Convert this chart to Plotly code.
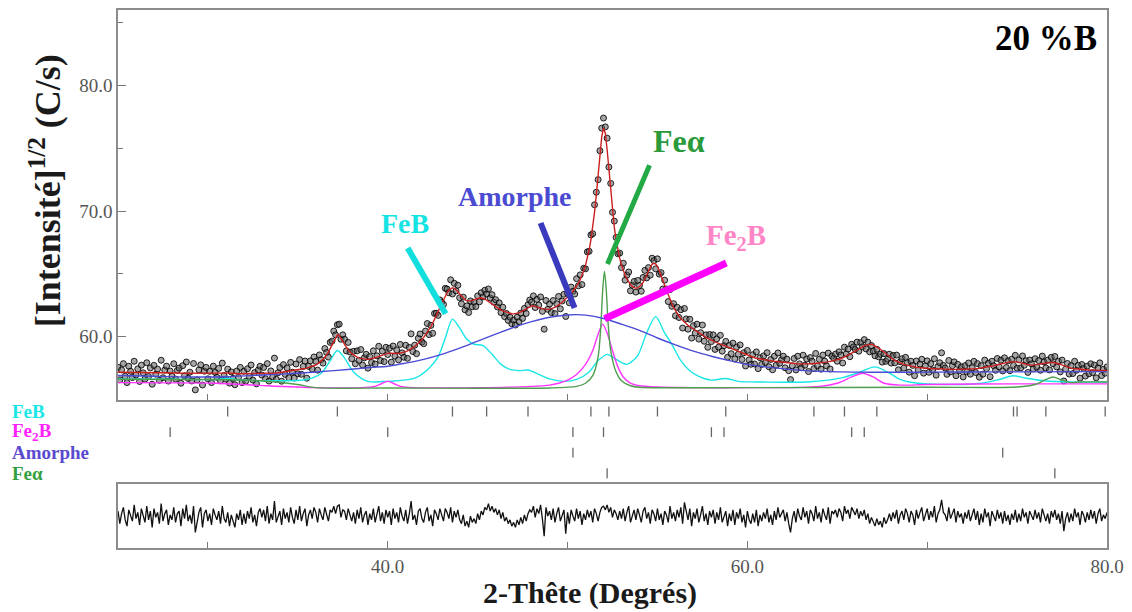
import numpy as np
import plotly.graph_objects as go

# ---------------- data ----------------
two_theta_start = 25.0
two_theta_step = 0.1

# calculated (fitted) profile, every 0.1 deg from 25.0 to 80.0
calc = [
    57.17, 57.17, 57.16, 57.16, 57.16, 57.15, 57.15, 57.15, 57.15, 57.15,
    57.15, 57.14, 57.14, 57.14, 57.13, 57.13, 57.13, 57.13, 57.12, 57.12,
    57.12, 57.12, 57.12, 57.13, 57.13, 57.14, 57.15, 57.16, 57.17, 57.17,
    57.16, 57.15, 57.13, 57.12, 57.11, 57.10, 57.10, 57.09, 57.09, 57.08,
    57.08, 57.08, 57.07, 57.07, 57.06, 57.06, 57.06, 57.06, 57.06, 57.06,
    57.05, 57.05, 57.05, 57.06, 57.06, 57.07, 57.08, 57.09, 57.10, 57.11,
    57.12, 57.12, 57.11, 57.10, 57.09, 57.08, 57.07, 57.06, 57.06, 57.05,
    57.05, 57.05, 57.05, 57.05, 57.05, 57.05, 57.05, 57.05, 57.05, 57.05,
    57.05, 57.05, 57.06, 57.06, 57.07, 57.08, 57.09, 57.10, 57.11, 57.13,
    57.15, 57.16, 57.18, 57.20, 57.22, 57.24, 57.26, 57.28, 57.31, 57.33,
    57.35, 57.38, 57.41, 57.44, 57.47, 57.50, 57.54, 57.58, 57.63, 57.69,
    57.75, 57.84, 57.95, 58.07, 58.20, 58.36, 58.55, 58.78, 59.05, 59.35,
    59.65, 59.95, 60.15, 60.10, 59.90, 59.65, 59.40, 59.17, 58.95, 58.78,
    58.65, 58.54, 58.45, 58.38, 58.32, 58.28, 58.25, 58.22, 58.20, 58.20,
    58.22, 58.25, 58.28, 58.33, 58.38, 58.44, 58.50, 58.56, 58.62, 58.66,
    58.68, 58.69, 58.68, 58.66, 58.65, 58.65, 58.66, 58.69, 58.72, 58.77,
    58.82, 58.88, 58.95, 59.03, 59.12, 59.23, 59.35, 59.48, 59.62, 59.78,
    59.95, 60.15, 60.35, 60.57, 60.80, 61.07, 61.35, 61.67, 62.00, 62.33,
    62.65, 62.97, 63.25, 63.50, 63.70, 63.83, 63.90, 63.85, 63.75, 63.60,
    63.40, 63.22, 63.05, 62.94, 62.85, 62.83, 62.85, 62.89, 62.95, 63.00,
    63.05, 63.08, 63.10, 63.07, 63.00, 62.90, 62.80, 62.68, 62.55, 62.45,
    62.35, 62.27, 62.20, 62.12, 62.05, 62.00, 61.95, 61.90, 61.85, 61.83,
    61.82, 61.83, 61.85, 61.90, 61.98, 62.06, 62.15, 62.25, 62.35, 62.42,
    62.45, 62.45, 62.42, 62.37, 62.32, 62.27, 62.22, 62.20, 62.18, 62.18,
    62.20, 62.23, 62.28, 62.34, 62.42, 62.51, 62.62, 62.74, 62.88, 63.01,
    63.15, 63.30, 63.45, 63.62, 63.80, 64.02, 64.25, 64.52, 64.85, 65.25,
    65.70, 66.25, 66.90, 67.70, 68.70, 69.90, 71.30, 72.90, 74.50, 75.90,
    76.60, 76.20, 74.90, 73.20, 71.50, 70.00, 68.70, 67.70, 66.90, 66.25,
    65.70, 65.25, 64.90, 64.60, 64.35, 64.15, 64.00, 63.90, 63.85, 63.88,
    63.97, 64.12, 64.32, 64.58, 64.88, 65.20, 65.50, 65.75, 65.85, 65.80,
    65.60, 65.28, 64.90, 64.50, 64.10, 63.70, 63.30, 62.95, 62.62, 62.33,
    62.07, 61.84, 61.63, 61.45, 61.29, 61.15, 61.02, 60.90, 60.79, 60.69,
    60.58, 60.49, 60.40, 60.31, 60.22, 60.13, 60.04, 59.95, 59.86, 59.78,
    59.71, 59.65, 59.59, 59.53, 59.47, 59.41, 59.35, 59.29, 59.23, 59.17,
    59.11, 59.05, 58.99, 58.93, 58.87, 58.81, 58.75, 58.69, 58.63, 58.57,
    58.51, 58.46, 58.41, 58.37, 58.33, 58.29, 58.26, 58.23, 58.20, 58.17,
    58.15, 58.13, 58.11, 58.09, 58.07, 58.05, 58.03, 58.01, 57.99, 57.97,
    57.95, 57.93, 57.92, 57.90, 57.89, 57.88, 57.87, 57.86, 57.85, 57.84,
    57.83, 57.83, 57.83, 57.83, 57.83, 57.84, 57.85, 57.86, 57.87, 57.88,
    57.90, 57.92, 57.94, 57.96, 57.98, 58.00, 58.03, 58.06, 58.09, 58.12,
    58.15, 58.20, 58.25, 58.31, 58.37, 58.44, 58.52, 58.61, 58.70, 58.79,
    58.88, 58.97, 59.05, 59.13, 59.20, 59.27, 59.33, 59.37, 59.40, 59.40,
    59.35, 59.28, 59.20, 59.10, 59.00, 58.88, 58.76, 58.64, 58.52, 58.41,
    58.30, 58.21, 58.12, 58.04, 57.97, 57.91, 57.85, 57.80, 57.76, 57.72,
    57.68, 57.65, 57.62, 57.60, 57.57, 57.55, 57.53, 57.51, 57.50, 57.49,
    57.48, 57.47, 57.46, 57.45, 57.45, 57.44, 57.43, 57.43, 57.42, 57.42,
    57.41, 57.41, 57.41, 57.40, 57.40, 57.40, 57.40, 57.40, 57.40, 57.40,
    57.40, 57.40, 57.41, 57.41, 57.42, 57.43, 57.44, 57.45, 57.46, 57.48,
    57.50, 57.52, 57.54, 57.56, 57.59, 57.62, 57.65, 57.69, 57.73, 57.77,
    57.80, 57.84, 57.88, 57.92, 57.95, 57.98, 58.00, 58.01, 58.02, 58.02,
    58.00, 57.96, 57.92, 57.87, 57.83, 57.79, 57.76, 57.75, 57.74, 57.74,
    57.75, 57.77, 57.80, 57.83, 57.86, 57.89, 57.92, 57.94, 57.96, 57.96,
    57.95, 57.93, 57.90, 57.85, 57.80, 57.74, 57.68, 57.62, 57.57, 57.53,
    57.50, 57.47, 57.45, 57.43, 57.42, 57.40, 57.39, 57.38, 57.37, 57.36,
    57.35, 57.35, 57.34, 57.34, 57.33, 57.32, 57.32, 57.31, 57.31, 57.30,
    57.30,
]

# difference curve (observed - calculated), same 0.1 deg grid
residual = [
    0.4, -0.6, 0.2, 0.7, -0.3, -0.8, 0.5, 0.1, -0.4, 0.9,
    -0.2, 0.3, -0.7, 0.6, 0.0, -0.5, 0.8, -0.3, 0.4, -0.9,
    0.6, -0.1, 0.3, -0.6, 1.0, -0.4, 0.2, 0.5, -0.7, 0.1,
    -0.3, 0.7, -0.5, 0.2, 0.4, -0.8, 0.6, -0.2, 0.9, -0.4,
    0.1, -0.6, 0.8, -1.3, -0.5, 0.3, 0.7, -0.9, 0.2, 0.5,
    -0.4, 0.2, -0.7, 0.6, 0.1, -0.3, 0.4, -0.6, 0.8, -0.2,
    -0.5, 0.3, -0.8, 0.1, -0.4, -0.9, 0.2, -0.3, 0.5, -0.7,
    0.2, -0.6, 0.4, -0.2, 0.7, -0.5, 0.1, -0.8, 0.3, 0.6,
    -0.1, 0.5, -0.4, 0.8, -0.6, 0.2, -0.3, 1.2, -0.5, 0.0,
    0.4, -0.7, 0.6, -0.2, 0.3, -0.5, 0.7, -0.1, -0.6, 0.5,
    -0.3, 0.8, -0.4, 0.2, 0.6, -0.8, 0.1, 0.5, -0.2, 0.7,
    0.3, -0.5, 0.6, 0.1, -0.3, 0.7, 0.2, -0.4, 0.5, 0.3,
    0.8, 0.2, 0.8, 0.9, -0.1, 0.5, 0.4, -0.3, 0.6, 0.0,
    -0.4, 0.3, -0.6, 0.5, -0.2, 0.7, -0.5, 0.1, 0.4, -0.7,
    0.2, -0.3, 0.6, -0.5, 0.1, 0.8, -0.4, 0.3, -0.6, 0.5,
    -0.1, 0.4, -0.7, 0.6, -0.2, 0.3, -0.5, 0.7, 0.0, -0.4,
    0.5, -0.6, 0.2, 1.2, -0.3, 0.1, -0.7, 0.4, 0.6, -0.2,
    -0.5, 0.3, 0.7, -0.4, 0.1, -0.8, 0.5, 0.2, -0.3, 0.6,
    0.1, -0.4, 0.6, 0.3, -0.2, 0.7, -0.5, 0.4, -0.1, 0.5,
    -0.3, -0.6, 0.1, -0.8, -0.4, -0.9, 0.0, -0.5, -0.2, -0.6,
    0.2, -0.3, 0.4, 0.1, 0.7, 0.5, 1.0, 0.4, 0.8, 0.3,
    0.6, 0.1, 0.5, -0.2, 0.3, -0.4, -0.1, -0.6, -0.3, -0.8,
    -0.5, -0.9, -0.3, -0.7, -0.1, -0.6, 0.1, -0.4, 0.2, 0.5,
    0.3, 0.8, -0.1, 0.6, 0.2, 0.9, -0.2, -1.6, 0.7, 0.0,
    0.4, -0.3, 0.6, -0.5, 0.2, 0.7, -0.4, 0.1, 0.5, -1.4,
    0.3, -0.6, 0.5, 0.0, -0.4, 0.6, -0.2, 0.4, -0.7, 0.2,
    -0.3, 0.5, -0.1, 0.4, -0.5, 0.6, 0.2, -0.4, 0.3, 0.7,
    0.8, 0.5, 0.9, 0.3, 0.7, -0.1, 0.5, 0.2, -0.3, 0.4,
    -0.2, 0.6, -0.4, 0.3, 0.8, -0.5, 0.1, 0.5, -0.3, 0.6,
    0.1, -0.5, 0.4, 0.7, -0.2, 0.3, -0.6, 0.5, 0.2, -0.4,
    0.6, -0.3, 0.2, -0.7, 0.4, 0.1, -0.5, 0.8, -0.2, 0.3,
    -0.4, 0.5, -0.1, 0.7, -0.6, 1.1, 0.4, -0.3, 0.6, -0.8,
    0.3, -0.2, 0.6, -0.5, 0.1, 0.8, -0.4, 0.2, -0.7, 0.4,
    -0.1, 0.5, -0.6, 0.3, -0.3, 0.7, -0.5, 0.0, 0.4, -0.8,
    0.2, -0.4, 0.5, -0.7, 0.3, -0.2, 0.6, -0.5, 0.1, -0.9,
    0.4, -0.3, -0.6, 0.2, -0.5, 0.5, -0.8, 0.1, -0.4, 0.3,
    -0.2, 0.6, -0.5, 0.1, -0.7, 0.4, -0.3, 0.7, -0.1, 0.2,
    0.5, -0.4, 0.3, -0.6, -1.3, -0.2, 0.4, -0.5, 0.6, 0.0,
    -0.3, 0.7, -0.1, 0.4, -0.6, 0.5, 0.2, -0.4, 0.8, -0.2,
    0.3, -0.5, 0.6, 0.1, -0.3, 0.7, -0.6, 0.4, 0.2, 0.5,
    -0.1, 0.6, 0.3, -0.4, 0.8, 0.2, 0.5, -0.2, 0.7, 0.4,
    0.1, 0.6, -0.2, 0.4, 0.0, 0.5, -0.3, 0.2, -0.6, -0.1,
    -0.5, -0.8, -0.2, -0.7, -0.4, -0.9, -0.1, -0.6, -0.3, 0.2,
    -0.4, 0.3, -0.2, 0.5, -0.6, 0.1, 0.4, -0.3, 0.6, 0.2,
    -0.5, 0.4, 0.1, -0.7, 0.5, -0.2, 0.3, 0.7, -0.4, 0.2,
    0.6, -0.3, 0.4, -0.1, 0.8, -0.5, 0.2, 0.5, 1.3, 0.3,
    0.1, -0.4, 0.7, -0.2, 0.3, 0.6, -0.5, 0.4, -0.1, 0.2,
    -0.6, 0.3, -0.2, 0.5, -0.4, 0.1, 0.6, -0.3, 0.4, -0.7,
    0.2, -0.5, 0.6, -0.1, 0.3, -0.8, 0.4, 0.0, -0.4, 0.5,
    -0.2, 0.3, -0.6, 0.4, -0.4, 0.1, -0.7, 0.2, -0.3, 0.5,
    -0.5, 0.2, -0.4, 0.6, -0.1, 0.3, -0.6, 0.4, 0.1, -0.3,
    0.5, -0.2, 0.3, -0.5, 0.6, 0.1, -0.4, 0.2, -0.6, 0.4,
    -0.1, 0.5, -0.3, 0.2, -0.6, 0.4, -1.2, -0.2, 0.3, -0.5,
    0.2, -0.4, 0.6, -0.1, 0.3, -0.7, 0.4, 0.1, -0.5, 0.3,
    -0.3, 0.5, -0.2, 0.4, -0.6, 0.2, 0.6, -0.4, 0.1, -0.2,
    0.3,
]

# phase contributions
amorph_x = [25, 27, 29, 31, 33, 35, 37, 39, 40, 41, 42, 43, 44, 45, 46, 47, 48, 49, 50, 50.5,
            51, 52, 53, 54, 55, 56, 57, 58, 59, 60, 61, 62, 63, 64, 66, 68, 70, 74, 80]
amorph_y = [56.92, 56.85, 56.80, 56.82, 56.95, 57.10, 57.30, 57.55, 57.65, 57.90, 58.20, 58.60,
            59.10, 59.65, 60.20, 60.75, 61.20, 61.55, 61.73, 61.76, 61.72, 61.45, 61.00, 60.50,
            59.90, 59.35, 58.85, 58.45, 58.10, 57.80, 57.60, 57.45, 57.32, 57.25, 57.18, 57.17,
            57.18, 57.20, 57.22]

feb_x = [25, 28, 30.5, 31.1, 31.7, 33.5, 35.5, 36.3, 36.8, 37.2, 37.6, 38.1, 38.9, 40, 41.5,
         42.3, 42.8, 43.2, 43.6, 44.0, 44.4, 44.8, 45.3, 45.8, 46.3, 46.8, 47.3, 47.8, 48.4,
         49.0, 49.8, 50.5, 51.2, 51.7, 52.2, 52.7, 53.3, 53.9, 54.4, 54.9, 55.4, 55.8, 56.3,
         56.8, 57.3, 58.0, 58.8, 59.5, 60.5, 62, 63.3, 64.5, 65.3, 66.2, 67.1, 67.9, 68.5,
         69.0, 71, 73, 74, 74.8, 75.5, 76.5, 78, 80]
feb_y = [56.65, 56.62, 56.60, 56.70, 56.58, 56.50, 56.60, 57.10, 58.10, 58.90, 58.30, 57.20,
         56.45, 56.45, 56.70, 57.50, 58.40, 59.90, 61.40, 60.70, 59.80, 59.40, 59.30, 58.60,
         57.80, 57.40, 57.30, 57.35, 57.00, 56.65, 56.45, 56.60, 57.20, 58.10, 58.60, 58.20,
         57.80, 58.50, 60.30, 61.60, 60.30, 59.40, 58.10, 57.30, 56.85, 56.55, 56.68, 56.45,
         56.40, 56.38, 56.40, 56.55, 56.75, 57.15, 57.60, 57.10, 56.60, 56.40, 56.20, 56.30,
         56.60, 56.90, 56.70, 56.50, 56.40, 56.40]

fe2b_x = [25, 30.4, 33.2, 36, 38.5, 39.3, 39.7, 40.0, 40.3, 40.7, 41.5, 45, 48, 49, 49.5, 50,
          50.5, 51.0, 51.4, 51.7, 51.95, 52.2, 52.5, 52.8, 53.1, 53.5, 54, 55, 57, 60, 63, 64,
          65, 65.8, 66.4, 67.0, 67.6, 68.5, 70, 75, 80]
fe2b_y = [56.35, 56.30, 56.10, 55.95, 55.95, 56.05, 56.30, 56.45, 56.30, 56.05, 55.95, 55.95,
          56.05, 56.15, 56.30, 56.55, 57.00, 57.80, 58.90, 60.20, 61.00, 60.30, 58.90, 57.60,
          56.80, 56.30, 56.10, 56.00, 55.95, 55.95, 55.97, 56.05, 56.30, 56.80, 57.10, 56.80,
          56.30, 56.15, 56.20, 56.25, 56.25]

fea_x = [25, 30, 33, 35, 36, 40, 45, 49, 50.5, 51.0, 51.4, 51.7, 51.85, 51.95, 52.05, 52.15,
         52.25, 52.4, 52.7, 53.0, 53.5, 54, 60, 70, 75, 76, 76.6, 77.0, 77.4, 78, 78.5, 80]
fea_y = [56.62, 56.60, 56.50, 56.20, 55.95, 55.92, 55.90, 55.92, 56.05, 56.30, 56.90, 58.40,
         60.80, 63.60, 65.20, 63.80, 61.20, 58.90, 57.20, 56.50, 56.10, 55.98, 55.95, 55.98,
         56.00, 56.20, 56.60, 56.80, 56.60, 56.35, 56.40, 56.40]

# Bragg reflection positions (2-theta)
bragg_feb = [31.1, 37.2, 43.6, 45.5, 47.8, 51.3, 52.3, 55.0, 58.8, 63.7, 65.4, 67.2, 74.8, 75.0, 76.6, 79.9]
bragg_fe2b = [27.9, 40.0, 50.3, 52.0, 58.0, 58.7, 65.8, 66.5]
bragg_amorph = [50.3, 74.2]
bragg_fea = [52.2, 77.1]

phase_names = ["FeB", "Fe<sub>2</sub>B", "Amorphe", "Fe\u03b1"]

assert len(calc) == len(residual) == 551

# ---------------- figure ----------------
n = len(calc)
two_theta = np.round(two_theta_start + two_theta_step * np.arange(n), 2)
obs = np.round(np.array(calc) + np.array(residual), 2)

SERIF = "Liberation Serif, Times New Roman, serif"
C_FEB = "#18e6e6"
C_FE2B = "#ff33ff"
C_AMO = "#4b4bd6"
C_FEA = "#4e9e4e"
C_RED = "#cc1f1f"
AX = "#8c8c8c"

fig = go.Figure()

fig.add_trace(go.Scatter(x=two_theta, y=obs, mode="markers", xaxis="x", yaxis="y",
                         marker=dict(symbol="circle", size=6, color="rgba(95,95,95,0.55)",
                                     line=dict(width=1, color="rgba(0,0,0,0.85)")),
                         hoverinfo="skip"))

for xs, ys, col in [(feb_x, feb_y, C_FEB), (fe2b_x, fe2b_y, C_FE2B),
                    (fea_x, fea_y, C_FEA), (amorph_x, amorph_y, C_AMO)]:
    fig.add_trace(go.Scatter(x=xs, y=ys, mode="lines", xaxis="x", yaxis="y",
                             line=dict(color=col, width=1.4, shape="spline", smoothing=0.8),
                             hoverinfo="skip"))

fig.add_trace(go.Scatter(x=two_theta, y=calc, mode="lines", xaxis="x", yaxis="y",
                         line=dict(color=C_RED, width=1.4), hoverinfo="skip"))

# Bragg tick rows
for row, pos in enumerate([bragg_feb, bragg_fe2b, bragg_amorph, bragg_fea], start=1):
    fig.add_trace(go.Scatter(x=pos, y=[row] * len(pos), mode="markers", xaxis="x", yaxis="y3",
                             marker=dict(symbol="line-ns", size=7,
                                         line=dict(width=1.3, color="#666666")),
                             hoverinfo="skip"))

# difference curve
fig.add_trace(go.Scatter(x=two_theta, y=residual, mode="lines", xaxis="x2", yaxis="y2",
                         line=dict(color="#111111", width=1.3), hoverinfo="skip"))

tickfont = dict(family=SERIF, size=19, color="#555555")

fig.update_layout(
    width=1132, height=612,
    margin=dict(l=118, r=25, t=8, b=64),
    paper_bgcolor="white", plot_bgcolor="white",
    showlegend=False,
    xaxis=dict(domain=[0, 1], anchor="y", range=[25, 80], showgrid=False, zeroline=False,
               showline=True, mirror=True, linecolor=AX, linewidth=1.5,
               tickvals=[30, 40, 50, 60, 70], ticks="inside", ticklen=6, tickcolor="#777",
               showticklabels=False),
    yaxis=dict(domain=[0.2759, 1], anchor="x", range=[55.0, 86.0], showgrid=False, zeroline=False,
               showline=True, mirror=True, linecolor=AX, linewidth=1.5,
               tick0=0, dtick=10, ticks="inside", ticklen=8, tickcolor="#777",
               tickformat=".1f", tickfont=tickfont,
               minor=dict(dtick=5, ticks="inside", ticklen=5, tickcolor="#777")),
    yaxis3=dict(domain=[0.1198, 0.2728], anchor="x", range=[4.5, 0.5], visible=False),
    xaxis2=dict(domain=[0, 1], anchor="y2", matches="x", range=[25, 80], showgrid=False,
                zeroline=False, showline=True, mirror=True, linecolor=AX, linewidth=1.5,
                tick0=0, dtick=20, tickformat=".1f",
                ticks="inside", ticklen=7, tickcolor="#777", tickfont=tickfont,
                minor=dict(dtick=10, ticks="inside", ticklen=6, tickcolor="#777")),
    yaxis2=dict(domain=[0, 0.1185], anchor="x2", range=[-2.55, 2.55], showgrid=False,
                zeroline=False, showline=True, mirror=True, linecolor=AX, linewidth=1.5,
                showticklabels=False, ticks=""),
)

# pointer lines
pointers = [
    (41.11, 67.06, 43.22, 61.83, "#12dede", 6),
    (48.50, 69.05, 50.39, 62.30, "#3a3abf", 6),
    (54.56, 73.65, 52.22, 65.79, "#22aa44", 5),
    (58.83, 65.87, 52.06, 61.43, "#ff00ff", 7),
]
for x0, y0, x1, y1, col, w in pointers:
    fig.add_shape(type="line", xref="x", yref="y", x0=x0, y0=y0, x1=x1, y1=y1,
                  line=dict(color=col, width=w))

labels = [
    (40.94, 69.05, "<b>FeB</b>", "#14e3e3", 28),
    (47.06, 71.19, "<b>Amorphe</b>", "#4a4ad2", 28),
    (56.22, 75.56, "<b>Fe\u03b1</b>", "#2a9a3a", 32),
    (59.39, 67.94, "<b>Fe<sub>2</sub>B</b>", "#ff86c6", 29),
]
for x, y, t, col, sz in labels:
    fig.add_annotation(x=x, y=y, xref="x", yref="y", text=t, showarrow=False,
                       xanchor="center", yanchor="middle",
                       font=dict(family=SERIF, size=sz, color=col))

fig.add_annotation(x=76.61, y=83.73, xref="x", yref="y", text="<b>20 %B</b>", showarrow=False,
                   xanchor="center", yanchor="middle",
                   font=dict(family=SERIF, size=35, color="black"))

# phase legend at left of the tick rows
legend_cols = [C_FEB, "#ff22ff", "#5a4ad0", "#33a040"]
for row, (name, col) in enumerate(zip(phase_names, legend_cols), start=1):
    fig.add_annotation(x=-0.109, y=row, xref="paper", yref="y3", text="<b>" + name + "</b>",
                       showarrow=False, xanchor="left", yanchor="middle",
                       font=dict(family=SERIF, size=19, color=col))

# axis titles
fig.add_annotation(x=-0.0738, y=0.663, xref="paper", yref="paper",
                   text="<b>[Intensité]<sup>1/2</sup> (C/s)</b>", textangle=-90,
                   showarrow=False, xanchor="center", yanchor="middle",
                   font=dict(family=SERIF, size=36, color="#1a1a1a"))
fig.add_annotation(x=0.4772, y=-0.0833, xref="paper", yref="paper",
                   text="<b>2-Thête (Degrés)</b>", showarrow=False,
                   xanchor="center", yanchor="middle",
                   font=dict(family=SERIF, size=30, color="#1a1a1a"))

fig.write_html("out.html",
               config={"displayModeBar": False},
               post_script="document.body.style.margin='0';"
                           "document.documentElement.style.overflow='hidden';")
